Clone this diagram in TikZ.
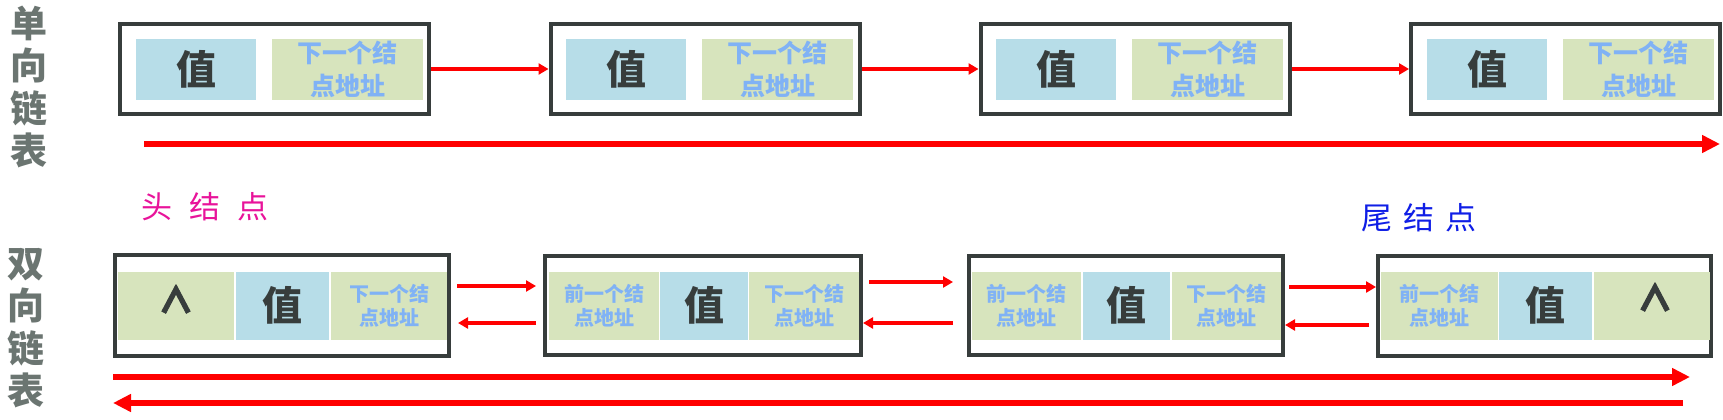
\documentclass[tikz,border=0pt]{standalone}
\usepackage{fontspec}
\setmainfont{Noto Sans CJK SC}
\newfontfamily\cjk{Noto Sans CJK SC}
\newfontfamily\nullmarkfont[BoldFeatures={FakeBold=2.5}]{Noto Sans CJK SC}
\usetikzlibrary{arrows.meta}
\definecolor{border}{RGB}{55,61,60}
\definecolor{cellblue}{RGB}{183,221,232}
\definecolor{cellgreen}{RGB}{215,228,189}
\definecolor{addrtext}{RGB}{128,178,245}
\definecolor{valtext}{RGB}{55,61,60}
\definecolor{sidegray}{RGB}{107,117,113}
\definecolor{headpink}{RGB}{232,19,154}
\definecolor{tailblue}{RGB}{15,30,230}
\definecolor{arrred}{RGB}{255,0,0}
\tikzset{
  box/.style={draw=border, line width=4pt, inner sep=0pt, fill=white},
  cellb/.style={fill=cellblue, inner sep=0pt, text=valtext, font=\cjk\bfseries\fontsize{40}{40}\selectfont},
  cellg/.style={fill=cellgreen, inner sep=0pt, text=addrtext, align=center},
  addrtop/.style={font=\cjk\bfseries\fontsize{25}{33}\selectfont},
  addrbot/.style={font=\cjk\bfseries\fontsize{20}{23.5}\selectfont},
  nullmark/.style={text=valtext, inner sep=0pt, font=\nullmarkfont\bfseries\fontsize{36}{36}\selectfont},
  sidelabel/.style={text=sidegray, align=center, inner sep=0pt, font=\cjk\bfseries\fontsize{37}{42.5}\selectfont},
  marklabel/.style={inner sep=0pt, font=\cjk\fontsize{31}{31}\selectfont},
  sarr/.style={draw=arrred, line width=3.5pt, -{Triangle[length=10pt,width=11pt]}},
  larr/.style={draw=arrred, line width=5.5pt, -{Triangle[length=18pt,width=17pt]}}
}
\begin{document}
\begin{tikzpicture}[x=1pt,y=-1pt]
\useasboundingbox (0,0) rectangle (1723,420);

% side labels
\node[sidelabel] (lab1) at (29,87) {单\\向\\链\\表};
\node[sidelabel] (lab2) at (26,328) {双\\向\\链\\表};

% ---------- singly linked list ----------
\node[box, minimum width=309pt, minimum height=89.5pt] (b1) at (274.5,69) {};
\node[box, minimum width=309pt, minimum height=89.5pt] (b2) at (705,69) {};
\node[box, minimum width=309pt, minimum height=89.5pt] (b3) at (1135,69) {};
\node[box, minimum width=309pt, minimum height=89.5pt] (b4) at (1565.5,69) {};

\node[cellb, minimum width=120pt, minimum height=60pt] (b1v) at (196,69.5) {值};
\node[cellg, addrtop, minimum width=151pt, minimum height=60pt] (b1n) at (347.5,69.5) {下一个结\\点地址};
\node[cellb, minimum width=120pt, minimum height=60pt] (b2v) at (626,69.5) {值};
\node[cellg, addrtop, minimum width=151pt, minimum height=60pt] (b2n) at (777.5,69.5) {下一个结\\点地址};
\node[cellb, minimum width=120pt, minimum height=60pt] (b3v) at (1056,69.5) {值};
\node[cellg, addrtop, minimum width=151pt, minimum height=60pt] (b3n) at (1207.5,69.5) {下一个结\\点地址};
\node[cellb, minimum width=120pt, minimum height=60pt] (b4v) at (1487,69.5) {值};
\node[cellg, addrtop, minimum width=151pt, minimum height=60pt] (b4n) at (1638.5,69.5) {下一个结\\点地址};

\draw[sarr] (b1.east) -- (b2.west);
\draw[sarr] (b2.east) -- (b3.west);
\draw[sarr] (b3.east) -- (b4.west);

\coordinate (ts) at (144,144);
\coordinate (te) at (1720,144);
\draw[larr] (ts) -- (te);

% ---------- labels ----------
\node[marklabel, text=headpink] (head) at (205,207) {头\hspace{17pt}结\hspace{17pt}点};
\node[marklabel, text=tailblue] (tail) at (1419,218) {尾\hspace{11pt}结\hspace{11pt}点};

% ---------- doubly linked list ----------
\node[box, minimum width=334pt, minimum height=101pt] (c1) at (282,305.5) {};
\node[box, minimum width=316pt, minimum height=99pt] (c2) at (703,305.5) {};
\node[box, minimum width=314pt, minimum height=99pt] (c3) at (1126,305.5) {};
\node[box, minimum width=333pt, minimum height=100pt] (c4) at (1544.5,306) {};

% c1 cells
\node[cellg, minimum width=116pt, minimum height=67.5pt] (c1p) at (176,305.75) {};
\node[nullmark] (c1null) at (176,299) {∧};
\node[cellb, minimum width=93pt, minimum height=67.5pt] (c1v) at (282.5,305.75) {值};
\node[cellg, addrbot, minimum width=116pt, minimum height=67.5pt] (c1n) at (389,305.75) {下一个结\\点地址};
% c2 cells
\node[cellg, addrbot, minimum width=110pt, minimum height=67.5pt] (c2p) at (604,305.75) {前一个结\\点地址};
\node[cellb, minimum width=88pt, minimum height=67.5pt] (c2v) at (704,305.75) {值};
\node[cellg, addrbot, minimum width=110pt, minimum height=67.5pt] (c2n) at (804,305.75) {下一个结\\点地址};
% c3 cells
\node[cellg, addrbot, minimum width=109pt, minimum height=67.5pt] (c3p) at (1026.5,305.75) {前一个结\\点地址};
\node[cellb, minimum width=87pt, minimum height=67.5pt] (c3v) at (1126.5,305.75) {值};
\node[cellg, addrbot, minimum width=109pt, minimum height=67.5pt] (c3n) at (1226.5,305.75) {下一个结\\点地址};
% c4 cells
\node[cellg, addrbot, minimum width=117pt, minimum height=67.5pt] (c4p) at (1439.5,305.75) {前一个结\\点地址};
\node[cellb, minimum width=93pt, minimum height=67.5pt] (c4v) at (1545.5,305.75) {值};
\node[cellg, minimum width=116pt, minimum height=67.5pt] (c4n) at (1652,305.75) {};
\node[nullmark] (c4null) at (1655,297) {∧};

% small arrows between doubly nodes
\coordinate (r12s) at (457,286);  \coordinate (r12e) at (536,286);
\coordinate (l12s) at (536,323);  \coordinate (l12e) at (458,323);
\coordinate (r23s) at (869,282);  \coordinate (r23e) at (953,282);
\coordinate (l23s) at (953,323);
\coordinate (r34s) at (1289,287);
\coordinate (l34s) at (1369,325);
\draw[sarr] (r12s) -- (r12e);
\draw[sarr] (l12s) -- (l12e);
\draw[sarr] (r23s) -- (r23e);
\draw[sarr] (l23s) -- (l23s -| c2.east);
\draw[sarr] (r34s) -- (r34s -| c4.west);
\draw[sarr] (l34s) -- (l34s -| c3.east);

% long arrows
\coordinate (fs) at (113,377);  \coordinate (fe) at (1690,377);
\coordinate (bs) at (1683,403); \coordinate (be) at (113,403);
\draw[larr] (fs) -- (fe);
\draw[larr] (bs) -- (be);
\end{tikzpicture}
\end{document}
